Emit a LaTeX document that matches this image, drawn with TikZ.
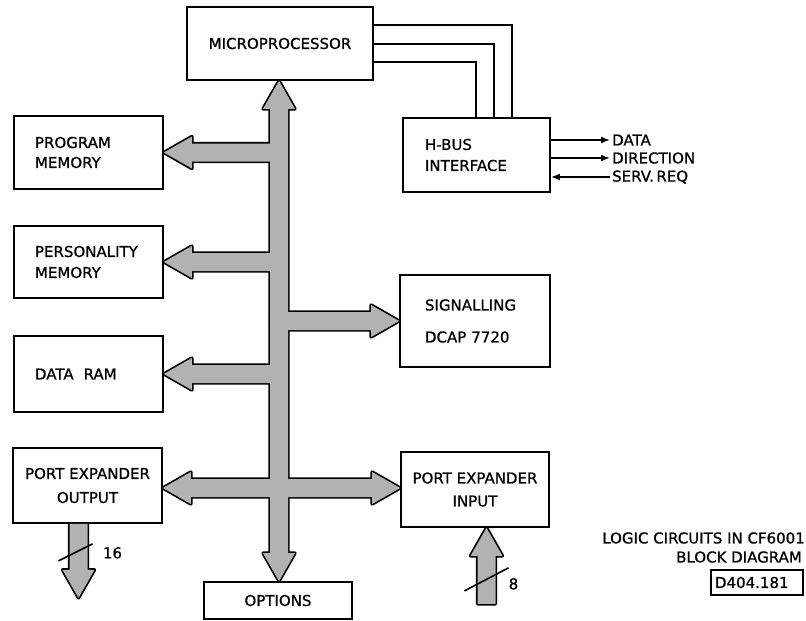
\documentclass[tikz,border=0pt]{standalone}
\usepackage{fontspec}
\setmainfont{DejaVu Sans}[FakeBold=0.8]
\usetikzlibrary{calc,arrows.meta}

\tikzset{
  blk/.style={draw, line width=1.7pt, inner sep=0pt},
  fat/.style={to path={let \p1=(\tikztostart), \p2=(\tikztotarget), \p3=($(\p2)!28pt!(\p1)$) in
    (\p2) -- ($(\p3)!16pt!90:(\p2)$) -- ($(\p3)!9pt!90:(\p2)$) -- ($(\p1)!9pt!90:(\p2)$)
    -- ($(\p1)!9pt!-90:(\p2)$) -- ($(\p3)!9pt!-90:(\p2)$) -- ($(\p3)!16pt!-90:(\p2)$) -- cycle}},
  fatout/.style={draw, line width=3.4pt, line join=round},
  fatin/.style={fill=black!30},
  sig/.style={line width=1.6pt, -{Latex[length=9pt,width=7pt]}}
}

\begin{document}
\begin{tikzpicture}[x=1pt,y=-1pt,font=\fontsize{15}{20}\selectfont]
\useasboundingbox (0,0) rectangle (806,621);

% blocks
\node[blk, minimum width=186pt, minimum height=73pt] (micro) at (280,43.5) {MICROPROCESSOR};
\node[blk, minimum width=147pt, minimum height=74pt, text width=103pt, align=left] (hbus) at (476.5,155) {H-BUS\\[1pt]INTERFACE};
\node[blk, minimum width=149pt, minimum height=73pt, text width=107pt, align=left] (prog) at (88.5,152.5) {PROGRAM\\MEMORY};
\node[blk, minimum width=149pt, minimum height=72pt, text width=107pt, align=left] (pers) at (88.5,262) {PERSONALITY\\[1pt]MEMORY};
\node[blk, minimum width=149pt, minimum height=76pt, text width=107pt, align=left] (ram) at (88.5,374) {DATA\hspace{10pt}RAM};
\node[blk, minimum width=150pt, minimum height=92pt, text width=100pt, align=left] (sig) at (475,321) {SIGNALLING\\[12pt]DCAP 7720};
\node[blk, minimum width=149pt, minimum height=75pt, align=center] (peo) at (87.5,485.5) {PORT EXPANDER\\[4pt]OUTPUT};
\node[blk, minimum width=148pt, minimum height=75pt, align=center] (pei) at (475,489.5) {PORT EXPANDER\\[3pt]INPUT};
\node[blk, minimum width=148pt, minimum height=37pt] (opt) at (278,600.5) {OPTIONS};

% bus points
\coordinate (bus) at (279,320);
\coordinate (busTop) at (micro.south -| bus);
\coordinate (busBot) at (opt.north -| bus);
\coordinate (tProg) at (bus |- prog.east);
\coordinate (tPers) at (bus |- pers.east);
\coordinate (tRam) at (bus |- ram.east);
\coordinate (tSig) at (bus |- sig.west);
\coordinate (cross) at (279,488);
\coordinate (xOut) at (peo.east |- cross);
\coordinate (xIn) at (pei.west |- cross);
\coordinate (oTail) at ($(peo.south)+(-9,0)$);
\coordinate (oTip) at ($(oTail)+(0,74)$);
\coordinate (iTip) at ($(pei.south)+(11.5,0)$);
\coordinate (iTail) at ($(iTip)+(0,76)$);

% bus, outline first, then the fill
\foreach \lay in {fatout,fatin}
  \foreach \s/\t in {bus/busTop, bus/busBot, tProg/prog.east, tPers/pers.east, tRam/ram.east,
                     tSig/sig.west, cross/xOut, cross/xIn, oTail/oTip, iTail/iTip}
    \path[\lay] (\s) to[fat] (\t);

% widths
\draw[line width=1.6pt] ($(oTail)+(-20,37)$) -- ($(oTail)+(14,20)$);
\node (n16) at ($(oTail)+(34,29)$) {16};
\draw[line width=1.6pt] ($(iTip)+(-22,63)$) -- ($(iTip)+(22,40)$);
\node (n8) at ($(iTip)+(27,56)$) {8};

% microprocessor to H-bus
\foreach \dy/\dx in {19/110, 38/92, 56/74}
  \draw[line width=1.6pt] ($(micro.north east)+(0,\dy)$) -| ($(hbus.north west)+(\dx,0)$);

% H-bus signals
\node[anchor=west, inner sep=2pt] (dat) at (610,140) {DATA};
\node[anchor=west, inner sep=2pt] (dir) at (610,158) {DIRECTION};
\node[anchor=west, inner sep=2pt] (srv) at (610,177) {SERV.\,REQ};
\draw[sig] (hbus.east |- dat) -- (dat.west);
\draw[sig] (hbus.east |- dir) -- (dir.west);
\draw[sig] (srv.west) -- (hbus.east |- srv);

% title
\node[anchor=east, inner sep=0pt] (ttl1) at (805,538) {LOGIC CIRCUITS IN CF6001};
\node[anchor=east, inner sep=0pt] (ttl2) at (802,557) {BLOCK DIAGRAM};
\node[blk, line width=1.5pt, minimum width=92pt, minimum height=25pt, text width=84pt, align=left] (code) at (757,582.5) {D404.181};
\end{tikzpicture}
\end{document}
